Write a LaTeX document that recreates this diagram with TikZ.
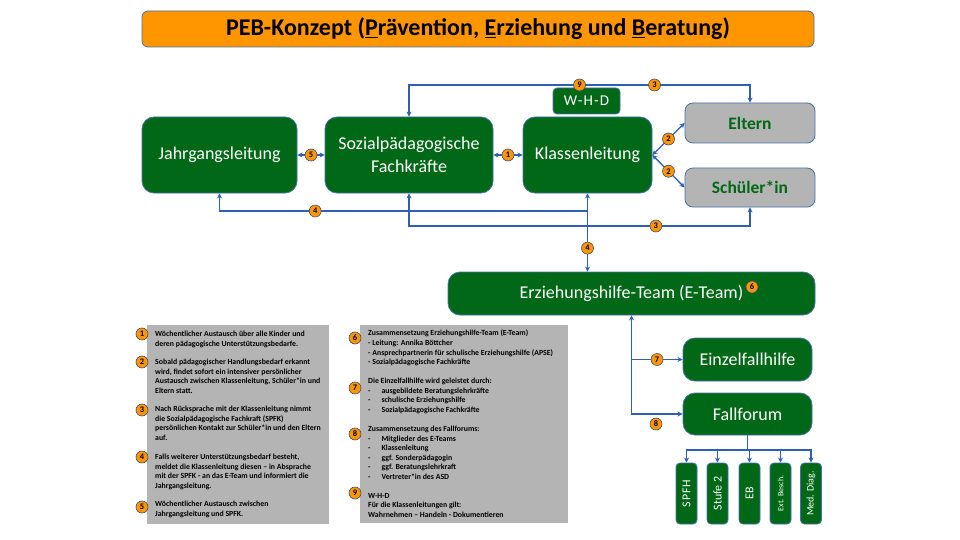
\documentclass[tikz,border=0pt]{standalone}
\usepackage{fontspec}
\setmainfont{Carlito}
\usetikzlibrary{arrows.meta}

\definecolor{pebgreen}{RGB}{0,104,22}
\definecolor{boxedge}{RGB}{70,112,170}
\definecolor{linkblue}{RGB}{47,95,180}
\definecolor{peborange}{RGB}{255,150,0}
\definecolor{badgeedge}{RGB}{60,78,105}
\definecolor{infogray}{RGB}{180,180,180}

\tikzset{
  box/.style={draw=boxedge, line width=0.8pt, fill=pebgreen, rounded corners=12pt,
    text=white, align=center, inner sep=2pt, font=\fontsize{18}{22.5}\selectfont},
  smallbox/.style={box, rounded corners=4pt, minimum width=21, minimum height=61,
    font=\fontsize{12}{12}\selectfont},
  graybox/.style={draw=boxedge, line width=0.8pt, fill=infogray, rounded corners=8pt,
    text=pebgreen, font=\bfseries\fontsize{17.5}{20}\selectfont},
  titlebox/.style={draw=boxedge, line width=0.8pt, fill=peborange, rounded corners=6pt,
    font=\bfseries\fontsize{24}{28}\selectfont},
  badge/.style={circle, draw=badgeedge, line width=0.6pt, fill=peborange, inner sep=0pt,
    minimum size=12, font=\bfseries\fontsize{8.5}{9}\selectfont},
  infobox/.style={fill=infogray, draw=none, inner sep=0pt},
  legtext/.style={anchor=north west, inner sep=0pt, align=left,
    font=\bfseries\fontsize{7.8}{9.55}\selectfont},
  link/.style={draw=linkblue, line width=1.3pt},
}

\begin{document}
\begin{tikzpicture}[x=1pt, y=-1pt, >={Stealth[length=5pt,width=5pt]}]
  \useasboundingbox (0,0) rectangle (960,540);

  % Title
  \node[titlebox, minimum width=672, minimum height=36] (title) at (478,29)
    {PEB-Konzept (\underline{P}rävention, \underline{E}rziehung und \underline{B}eratung)};

  % Main boxes
  \node[box, minimum width=155, minimum height=76] (jl) at (219.5,155) {Jahrgangsleitung};
  \node[box, minimum width=168, minimum height=76] (spf) at (409,155) {Sozialpädagogische\\Fachkräfte};
  \node[box, minimum width=129, minimum height=76] (kl) at (587.5,155) {Klassenleitung};
  \node[box, rounded corners=4pt, minimum width=67, minimum height=26,
    font=\fontsize{15}{15}\selectfont\addfontfeature{LetterSpace=8}] (whd) at (586.5,101) {W-H-D};
  \node[graybox, minimum width=130, minimum height=40] (eltern) at (750,123) {Eltern};
  \node[graybox, minimum width=130, minimum height=39] (schueler) at (750,187.5) {Schüler*in};
  \node[box, minimum width=367, minimum height=43] (eteam) at (631.5,293.5) {Erziehungshilfe-Team (E-Team)};
  \node[box, minimum width=129, minimum height=43] (efh) at (747.5,359.5) {Einzelfallhilfe};
  \node[box, minimum width=129, minimum height=42] (ff) at (747.5,414) {Fallforum};

  % Fallforum options
  \node[smallbox] (spfh) at (686.5,493.5) {\rotatebox{90}{\addfontfeature{LetterSpace=8}SPFH}};
  \node[smallbox] (stufe) at (717.5,493.5) {\rotatebox{90}{Stufe 2}};
  \node[smallbox] (eb) at (749.5,493.5) {\rotatebox{90}{EB}};
  \node[smallbox, font=\fontsize{8}{8}\selectfont] (ext) at (780.5,493.5) {\rotatebox{90}{Ext. Besch.}};
  \node[smallbox, font=\fontsize{10}{10}\selectfont] (med) at (811,493.5) {\rotatebox{90}{Med. Diag.}};

  % Lanes
  \coordinate (lanetop) at (0,85);
  \coordinate (lane4) at (0,211);
  \coordinate (lane3) at (0,226);
  \coordinate (bus) at (0,450);

  % Connectors
  \draw[link, <->] (jl) -- node[badge] (c5) {5} (spf);
  \draw[link, <->] (spf) -- node[badge] (c1) {1} (kl);
  \draw[link, <->] (kl.east) -- node[badge] (c2a) {2} (eltern.west);
  \draw[link, <->] (kl.east) -- node[badge] (c2b) {2} (schueler.west);
  \draw[link, <->] (spf.north) -- (spf.north |- lanetop)
    -- node[badge, pos=0.5] (c9) {9} node[badge, pos=0.72] (c3a) {3} (eltern.north |- lanetop)
    -- (eltern.north);
  \draw[link, <->] (spf.south) -- (spf.south |- lane3)
    -- node[badge, pos=0.724] (c3b) {3} (schueler.south |- lane3) -- (schueler.south);
  \draw[link, ->] (kl.south |- lane4) -- node[badge, pos=0.74] (c4a) {4} (jl.south |- lane4) -- (jl.south);
  \draw[link, <->] (kl.south) -- node[badge, pos=0.7] (c4b) {4} (kl.south |- eteam.north);
  \node[badge] (c6) at (752,287) {6};

  \draw[link, <->] (eteam.south) |- (ff.west);
  \draw[link, ->] (eteam.south |- efh.west) -- node[badge] (c7) {7} (efh.west);
  \node[badge] (c8) at (656,424) {8};

  \draw[link] (ff.south) -- (ff.south |- bus);
  \foreach \opt in {spfh, stufe, eb, ext, med} {
    \draw[link, ->] (ff.south |- bus) -| (\opt.north);
  }

  % Legend: steps
  \node[infobox, minimum width=182, minimum height=199] (steps) at (238,424.5) {};
  \node[legtext] (t1) at (155,331) {Wöchentlicher Austausch über alle Kinder und\\deren pädagogische Unterstützungsbedarfe.};
  \node[legtext] (t2) at (155,359) {Sobald pädagogischer Handlungsbedarf erkannt\\wird, findet sofort ein intensiver persönlicher\\Austausch zwischen Klassenleitung, Schüler*in und\\Eltern statt.};
  \node[legtext] (t3) at (155,406) {Nach Rücksprache mit der Klassenleitung nimmt\\die Sozialpädagogische Fachkraft (SPFK)\\persönlichen Kontakt zur Schüler*in und den Eltern\\auf.};
  \node[legtext] (t4) at (155,454) {Falls weiterer Unterstützungsbedarf besteht,\\meldet die Klassenleitung diesen – in Absprache\\mit der SPFK - an das E-Team und informiert die\\Jahrgangsleitung.};
  \node[legtext] (t5) at (155,501) {Wöchentlicher Austausch zwischen\\Jahrgangsleitung und SPFK.};
  \foreach \n/\y in {1/334, 2/362, 3/410, 4/457, 5/507} {
    \node[badge] (s\n) at (142,\y) {\n};
  }

  % Legend: teams
  \node[infobox, minimum width=208, minimum height=198] (teams) at (464,424) {};
  \node[legtext] (tt) at (368,330) {Zusammensetzung Erziehungshilfe-Team (E-Team)\\
    - Leitung: Annika Böttcher\\
    - Ansprechpartnerin für schulische Erziehungshilfe (APSE)\\
    - Sozialpädagogische Fachkräfte\\[9.55pt]
    Die Einzelfallhilfe wird geleistet durch:\\
    -\hspace{11pt}ausgebildete Beratungslehrkräfte\\
    -\hspace{11pt}schulische Erziehungshilfe\\
    -\hspace{11pt}Sozialpädagogische Fachkräfte\\[9.55pt]
    Zusammensetzung des Fallforums:\\
    -\hspace{11pt}Mitglieder des E-Teams\\
    -\hspace{11pt}Klassenleitung\\
    -\hspace{11pt}ggf. Sonderpädagogin\\
    -\hspace{11pt}ggf. Beratungslehrkraft\\
    -\hspace{11pt}Vertreter*in des ASD\\[9.55pt]
    W-H-D\\
    Für die Klassenleitungen gilt:\\
    Wahrnehmen – Handeln - Dokumentieren};
  \foreach \n/\y in {6/338, 7/388, 8/434, 9/493} {
    \node[badge] (m\n) at (355,\y) {\n};
  }
\end{tikzpicture}
\end{document}
